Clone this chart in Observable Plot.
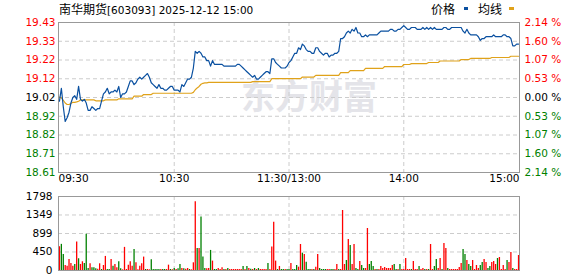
<!DOCTYPE html>
<html><head><meta charset="utf-8">
<script src="https://cdn.jsdelivr.net/npm/d3@7"></script>
<script src="https://cdn.jsdelivr.net/npm/@observablehq/plot@0.6"></script>
<style>
body{margin:0;background:#fff;}
#wrap{position:relative;width:578px;height:276px;overflow:hidden;font-family:"DejaVu Sans",sans-serif;background:#fff;}
#wrap svg{position:absolute;left:0;}
#title{position:absolute;left:59px;top:1px;font-size:10.5px;line-height:15px;color:#000;white-space:nowrap;z-index:2;}
#legend{position:absolute;left:431px;top:1px;line-height:15px;color:#000;white-space:nowrap;z-index:2;}
.cjk{font-family:"Noto Sans CJK SC",sans-serif;font-size:12px;}
.sw{display:inline-block;width:4px;height:3px;vertical-align:top;margin-top:6px;}
</style></head>
<body><div id="wrap">
<div id="title"><span class="cjk">南华期货</span>[603093] 2025-12-12 15:00</div>
<div id="legend"><span class="cjk">价格</span><span class="sw" style="background:#0a50a0;margin-left:9px;margin-right:10px"></span><span class="cjk">均线</span><span class="sw" style="background:#e0a21a;margin-left:7px;width:5px"></span></div>
</div>
<script>
const preClose = 19.02;
const pctSteps = [2.14, 1.605, 1.07, 0.535, 0, -0.535, -1.07, -1.605, -2.14];
const priceLabels = ["19.43","19.33","19.22","19.12","19.02","18.92","18.82","18.71","18.61"];
const pctLabels = ["2.14","1.60","1.07","0.53","0.00","0.53","1.07","1.60","2.14"];
const timeMinutes = [0, 60, 120, 180, 240];
const timeLabels = ["09:30","10:30","11:30/13:00","14:00","15:00"];
const volTicks = [0, 450, 899, 1349, 1798];
const volLabels = ["0","450","899","1349","1798"];

const prices = [19.00,19.07,18.97,18.89,18.91,18.94,18.99,19.02,19.03,19.01,
19.08,19.01,19.00,19.01,18.99,18.95,18.95,18.97,18.96,18.95,
18.96,18.96,19.00,19.04,19.05,19.07,19.04,19.05,19.05,19.06,
19.05,19.08,19.02,19.04,19.04,19.05,19.08,19.11,19.11,19.09,
19.10,19.12,19.13,19.12,19.13,19.14,19.15,19.13,19.10,19.09,
19.08,19.07,19.09,19.07,19.07,19.06,19.06,19.07,19.08,19.08,
19.06,19.06,19.06,19.05,19.09,19.08,19.10,19.12,19.12,19.13,
19.18,19.27,19.26,19.27,19.26,19.24,19.24,19.22,19.22,19.19,
19.22,19.20,19.20,19.20,19.20,19.20,19.19,19.19,19.19,19.19,
19.19,19.19,19.19,19.20,19.20,19.19,19.18,19.17,19.16,19.15,
19.14,19.13,19.14,19.12,19.12,19.13,19.14,19.15,19.16,19.16,
19.15,19.23,19.23,19.21,19.20,19.19,19.18,19.18,19.18,19.19,
19.21,19.22,19.24,19.26,19.26,19.29,19.28,19.31,19.30,19.28,
19.27,19.27,19.26,19.26,19.29,19.29,19.27,19.26,19.25,19.26,
19.26,19.24,19.25,19.25,19.26,19.26,19.27,19.34,19.34,19.35,
19.37,19.38,19.37,19.39,19.38,19.40,19.37,19.37,19.35,19.35,
19.36,19.35,19.36,19.36,19.36,19.36,19.36,19.37,19.38,19.38,
19.38,19.38,19.38,19.39,19.39,19.38,19.38,19.39,19.39,19.40,
19.41,19.40,19.39,19.39,19.40,19.40,19.40,19.39,19.39,19.39,
19.40,19.39,19.40,19.39,19.40,19.39,19.40,19.39,19.39,19.39,
19.39,19.40,19.40,19.39,19.39,19.40,19.40,19.40,19.40,19.40,
19.40,19.38,19.37,19.39,19.37,19.36,19.36,19.36,19.36,19.35,
19.33,19.34,19.34,19.35,19.35,19.35,19.35,19.36,19.35,19.35,
19.35,19.35,19.36,19.36,19.35,19.35,19.34,19.30,19.30,19.31,19.31];

const avgs = [19.022,19.018,19.005,18.990,18.982,18.982,18.988,18.994,18.994,18.996,
19.000,19.007,19.007,19.007,19.007,19.007,19.007,19.007,19.007,19.002,
19.002,19.002,19.002,19.002,19.007,19.007,19.007,19.007,19.007,19.007,
19.007,19.013,19.013,19.013,19.013,19.013,19.013,19.013,19.013,19.027,
19.027,19.027,19.027,19.027,19.036,19.036,19.036,19.036,19.036,19.043,
19.043,19.043,19.043,19.043,19.043,19.043,19.043,19.043,19.043,19.043,
19.043,19.043,19.043,19.043,19.043,19.043,19.043,19.043,19.043,19.043,
19.048,19.062,19.072,19.080,19.092,19.097,19.099,19.099,19.102,19.102,
19.102,19.102,19.102,19.102,19.102,19.102,19.102,19.102,19.102,19.102,
19.102,19.102,19.102,19.102,19.102,19.102,19.102,19.102,19.102,19.102,
19.102,19.106,19.106,19.106,19.106,19.106,19.106,19.106,19.106,19.106,
19.106,19.122,19.122,19.122,19.122,19.122,19.122,19.122,19.122,19.122,
19.122,19.122,19.122,19.122,19.122,19.122,19.122,19.131,19.131,19.131,
19.131,19.131,19.131,19.131,19.140,19.140,19.140,19.140,19.140,19.140,
19.140,19.140,19.140,19.140,19.140,19.140,19.140,19.155,19.155,19.155,
19.155,19.155,19.166,19.166,19.166,19.166,19.166,19.166,19.166,19.166,
19.178,19.178,19.178,19.178,19.178,19.178,19.178,19.178,19.178,19.178,
19.188,19.188,19.188,19.188,19.188,19.188,19.188,19.188,19.188,19.188,
19.199,19.199,19.199,19.199,19.204,19.204,19.204,19.204,19.204,19.204,
19.204,19.204,19.204,19.210,19.210,19.210,19.210,19.210,19.210,19.218,
19.218,19.218,19.218,19.218,19.218,19.218,19.218,19.218,19.218,19.218,
19.226,19.226,19.226,19.226,19.226,19.232,19.232,19.232,19.232,19.232,
19.232,19.232,19.232,19.232,19.232,19.232,19.237,19.237,19.237,19.237,
19.237,19.237,19.237,19.237,19.237,19.237,19.244,19.244,19.244,19.244,19.244];

const vols = [578,635,391,122,106,269,171,106,147,692,
285,147,212,171,879,49,163,65,65,41,
33,163,24,122,342,24,24,269,106,147,
65,212,41,16,562,24,130,212,106,513,
187,16,106,163,326,24,24,16,260,24,
24,24,24,24,24,24,24,130,24,16,
49,24,41,147,49,41,33,49,24,16,
187,1669,537,537,1302,326,49,41,49,488,
228,24,24,49,24,65,24,24,49,24,
24,24,24,24,24,24,98,24,98,49,
33,24,49,24,49,24,24,24,24,171,
24,570,1172,228,24,98,24,24,24,24,
24,171,24,24,122,81,632,421,389,203,
24,24,24,24,81,389,49,24,24,24,
24,24,24,24,24,146,24,24,1458,146,
243,753,608,146,632,49,24,219,122,49,
49,1021,146,219,97,24,24,24,97,49,
73,49,49,49,122,146,24,24,146,24,
24,292,24,24,24,219,24,24,97,24,
49,24,24,24,632,24,97,267,49,292,
24,656,535,49,24,24,24,24,24,73,
170,510,389,243,146,97,243,24,122,49,
122,195,267,195,49,97,195,219,146,292,
316,24,122,24,243,195,437,49,24,24,365];

const dirs = [1,-1,-1,1,1,1,1,1,-1,1,
-1,1,1,-1,-1,-1,1,-1,-1,-1,
1,1,-1,1,1,-1,-1,1,-1,1,
1,-1,-1,1,1,1,1,1,1,-1,
1,1,1,1,1,-1,1,1,-1,-1,
-1,-1,-1,1,-1,-1,1,1,-1,1,
-1,1,-1,-1,1,-1,1,1,-1,1,
1,1,-1,1,-1,-1,-1,1,1,-1,
1,-1,-1,1,1,1,-1,1,-1,1,
1,1,1,1,1,1,-1,1,-1,1,
-1,1,-1,1,-1,1,1,1,1,-1,
1,1,1,1,-1,1,-1,-1,1,-1,
-1,1,-1,-1,-1,1,1,-1,1,-1,
-1,-1,1,-1,1,1,-1,-1,-1,-1,
1,1,-1,-1,1,1,-1,1,1,1,
-1,1,-1,1,1,-1,-1,1,-1,-1,
1,1,-1,-1,-1,1,-1,1,1,1,
1,1,1,1,1,-1,-1,1,-1,1,
1,1,1,1,-1,1,1,1,-1,1,
1,-1,1,-1,1,1,-1,-1,1,1,
-1,1,1,-1,1,1,1,1,1,1,
1,-1,-1,1,-1,-1,1,1,1,1,
-1,-1,1,1,-1,-1,1,1,1,-1,
1,1,1,1,-1,1,1,-1,1,1,1];

const RED = "#ff0000", GREEN = "#008000", BLACK = "#000000";
const rows = prices.map((p, i) => ({i, price: p, avg: avgs[i], vol: vols[i], col: dirs[i] > 0 ? RED : GREEN}));
const ticks = pctSteps.map((s, k) => ({v: preClose * (1 + s / 100), price: priceLabels[k], pct: pctLabels[k] + " %", c: s > 0 ? RED : s < 0 ? GREEN : BLACK}));
const times = timeMinutes.map((m, k) => ({m, label: timeLabels[k]}));
const vt = volTicks.map((v, k) => ({v, label: volLabels[k]}));
const span = 2.14 / 100;
const xDom = [-0.5, 240.5];
const grid = {stroke: "#cccccc", strokeDasharray: "4,3", strokeWidth: 1};
const font = "DejaVu Sans";

const p1 = Plot.plot({
  width: 578, height: 190, marginTop: 22, marginBottom: 18, marginLeft: 58, marginRight: 59,
  style: {background: "transparent", overflow: "visible", fontFamily: font, fontSize: "10.5px"},
  x: {domain: xDom, axis: null},
  y: {domain: [preClose * (1 - span), preClose * (1 + span)], axis: null},
  marks: [
    Plot.text(["东方财富"], {frameAnchor: "middle", dx: 20, dy: 1, fontSize: 34, fontWeight: "bold", fill: "#e4e4e9", fontFamily: "Noto Sans CJK SC"}),
    Plot.ruleY(ticks.slice(1, -1), {y: "v", ...grid}),
    Plot.ruleX(timeMinutes.slice(1, -1), {x: d => d, ...grid}),
    Plot.frame({stroke: "#999999"}),
    Plot.line(rows, {x: "i", y: "avg", stroke: "#e0a21a", strokeWidth: 1.2}),
    Plot.line(rows, {x: "i", y: "price", stroke: "#0a50a0", strokeWidth: 1.2}),
    Plot.text(ticks, {y: "v", text: "price", fill: "c", frameAnchor: "left", textAnchor: "end", dx: -3, fontSize: 10.5}),
    Plot.text(ticks, {y: "v", text: "pct", fill: "c", frameAnchor: "right", textAnchor: "start", dx: 5, fontSize: 10.5}),
    Plot.text(times.slice(0, 1), {x: "m", text: "label", frameAnchor: "bottom", dy: 9, dx: -1, textAnchor: "start", fill: "#000", fontSize: 10.5}),
    Plot.text(times.slice(1, -1), {x: "m", text: "label", frameAnchor: "bottom", dy: 9, textAnchor: "middle", fill: "#000", fontSize: 10.5}),
    Plot.text(times.slice(-1), {x: "m", text: "label", frameAnchor: "bottom", dy: 9, dx: 1, textAnchor: "end", fill: "#000", fontSize: 10.5})
  ]
});
p1.style.top = "0px";

const p2 = Plot.plot({
  width: 578, height: 86, marginTop: 6, marginBottom: 6, marginLeft: 58, marginRight: 59,
  style: {background: "transparent", overflow: "visible", fontFamily: font, fontSize: "10.5px"},
  x: {domain: xDom, axis: null},
  y: {domain: [0, 1798], axis: null},
  marks: [
    Plot.ruleY(vt.slice(1, -1), {y: "v", ...grid}),
    Plot.ruleX(timeMinutes.slice(1, -1), {x: d => d, ...grid}),
    Plot.ruleX(rows, {x: "i", y1: () => 0, y2: "vol", stroke: "col", strokeWidth: 1.3}),
    Plot.frame({stroke: "#999999"}),
    Plot.text(vt, {y: "v", text: "label", frameAnchor: "left", textAnchor: "end", dx: -6, fill: "#000", fontSize: 10.5})
  ]
});
p2.style.top = "190px";

const wrap = document.getElementById("wrap");
wrap.insertBefore(p2, wrap.firstChild);
wrap.insertBefore(p1, wrap.firstChild);
</script>
</body></html>
